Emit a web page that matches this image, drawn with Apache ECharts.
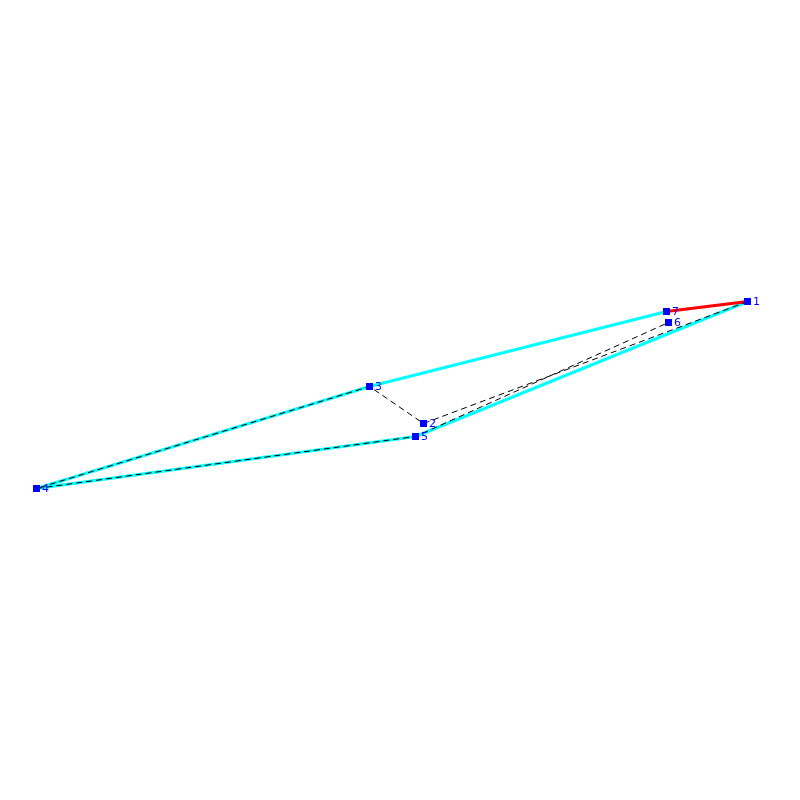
<!DOCTYPE html>
<html>
<head>
<meta charset="utf-8">
<style>
  html, body { margin: 0; padding: 0; background: #fff; }
  #main { width: 800px; height: 800px; }
</style>
<script src="https://cdn.jsdelivr.net/npm/echarts@6/dist/echarts.min.js"></script>
</head>
<body>
<div id="main"></div>
<script>
// node positions
const nodeNames = ['1', '2', '3', '4', '5', '6', '7'];
const nodeX = [747.5, 423.5, 369.5, 36.5, 415.5, 668.5, 666.5];
const nodeY = [301.5, 423.5, 386.5, 488.5, 436.5, 322.5, 311.5];

// paths, as node names
const hullPath = ['7', '3', '4', '5', '1'];
const closingPath = ['1', '7'];
const tourPath = ['1', '2', '3', '4', '5', '6'];

const toPoints = (path) => path.map((name) => {
  const i = nodeNames.indexOf(name);
  return [nodeX[i], nodeY[i]];
});

const pathSeries = (path, color, width, type, z) => ({
  type: 'line',
  data: toPoints(path),
  symbol: 'none',
  silent: true,
  animation: false,
  z: z,
  lineStyle: { color: color, width: width, type: type, cap: 'butt' },
});

const chart = echarts.init(document.getElementById('main'), null, { renderer: 'canvas' });
chart.setOption({
  animation: false,
  backgroundColor: '#ffffff',
  grid: { left: 0, right: 0, top: 0, bottom: 0 },
  xAxis: { type: 'value', min: 0, max: 800, show: false },
  yAxis: { type: 'value', min: 0, max: 800, inverse: true, show: false },
  series: [
    pathSeries(hullPath, '#00ffff', 3, 'solid', 1),
    pathSeries(closingPath, '#ff0000', 3, 'solid', 2),
    pathSeries(tourPath, '#000000', 1, [6, 4], 3),
    {
      type: 'scatter',
      z: 4,
      symbol: 'rect',
      symbolSize: 7,
      itemStyle: { color: '#0000ff', opacity: 1 },
      data: nodeNames.map((name, i) => ({ name: name, value: [nodeX[i], nodeY[i]] })),
      label: {
        show: true,
        position: 'right',
        distance: 2,
        offset: [0, 1],
        formatter: '{b}',
        color: '#0000ff',
        fontFamily: 'DejaVu Sans',
        fontSize: 11,
      },
    },
  ],
});
</script>
</body>
</html>
